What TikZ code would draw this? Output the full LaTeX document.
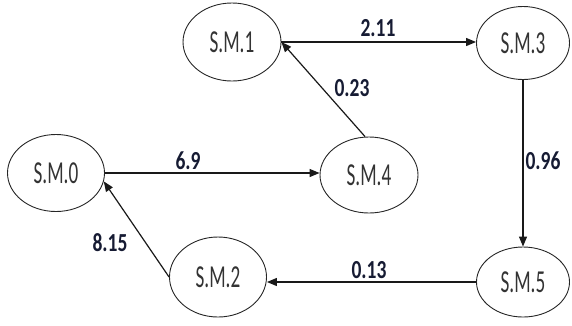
\documentclass[tikz,border=0pt]{standalone}
\usepackage{fontspec}
\setmainfont{Carlito}
\usetikzlibrary{arrows.meta,shapes.geometric}
\definecolor{lbl}{HTML}{161B33}
\begin{document}
\begin{tikzpicture}[x=1pt,y=-1pt,
  sm/.style={draw=black!85,line width=0.9pt,ellipse,inner sep=0pt,text=black!80,
    font=\fontsize{32}{32}\selectfont},
  lab/.style={text=lbl,inner sep=0pt,font=\fontsize{26}{26}\selectfont\bfseries},
  edge/.style={draw=black!90,line width=1.2pt,-{Triangle[length=10pt,width=8pt]}}]
\useasboundingbox (0,0) rectangle (572,325);
\newcommand{\smt}[1]{\scalebox{0.6}[1]{#1}}
\newcommand{\lbt}[1]{\scalebox{0.75}[1]{#1}}
\node[sm,minimum width=98pt,minimum height=78pt] (m1) at (232,42) {\smt{S.M.1}};
\node[sm,minimum width=97pt,minimum height=77pt] (m0) at (56,173) {\smt{S.M.0}};
\node[sm,minimum width=97pt,minimum height=80pt] (m2) at (218,277) {\smt{S.M.2}};
\node[sm,minimum width=93pt,minimum height=73pt] (m3) at (523,43) {\smt{S.M.3}};
\node[sm,minimum width=98pt,minimum height=76pt] (m4) at (369,175) {\smt{S.M.4}};
\node[sm,minimum width=93pt,minimum height=70pt] (m5) at (523,282) {\smt{S.M.5}};
\draw[edge] (m1.east) -- (m3.west |- m1.east);
\draw[edge] ([xshift=-4pt]m4.north) -- (m1.east);
\draw[edge] (m0.east) -- (m4.west |- m0.east);
\draw[edge] (m3.south) -- (m5.north);
\draw[edge] (m5.west) -- (m2.east |- m5.west);
\draw[edge] (m2.west) -- (m0.-10);
\node[lab] (l211) at (378,28) {\lbt{2.11}};
\node[lab] (l023) at (352,88) {\lbt{0.23}};
\node[lab] (l69) at (188,161) {\lbt{6.9}};
\node[lab] (l096) at (543,161) {\lbt{0.96}};
\node[lab] (l013) at (369,270) {\lbt{0.13}};
\node[lab] (l815) at (110,243) {\lbt{8.15}};
\end{tikzpicture}
\end{document}
